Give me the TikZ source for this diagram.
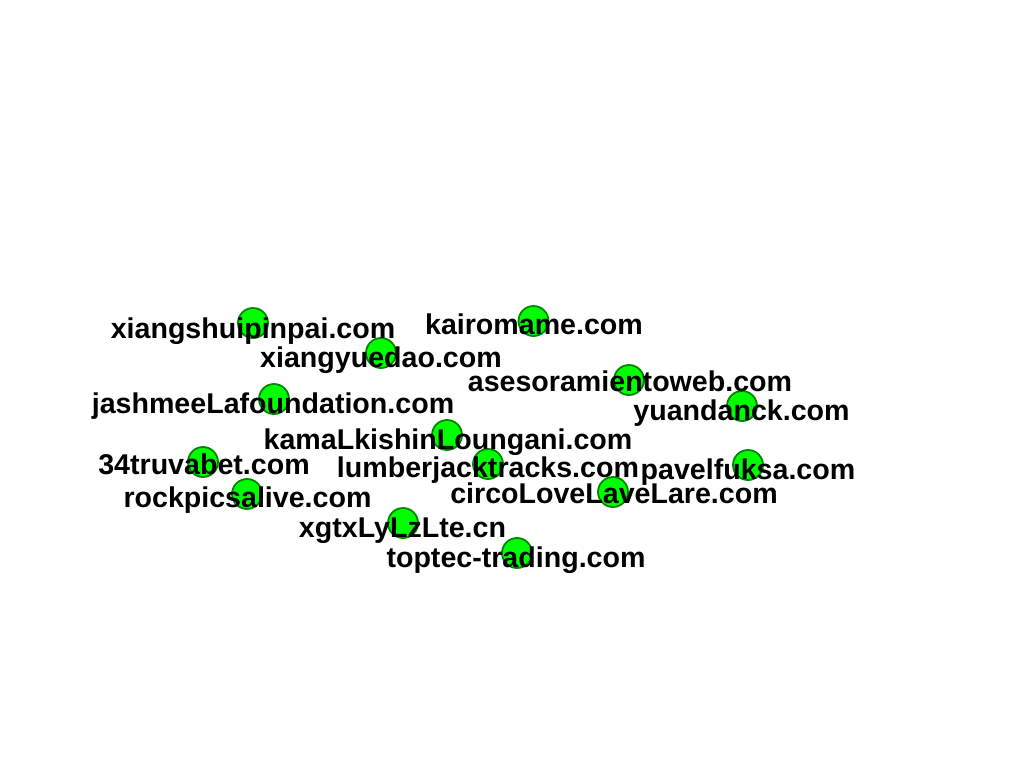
\documentclass[tikz,border=0pt]{standalone}
\usepackage{fontspec}
\setmainfont{Liberation Sans}
\definecolor{nodefill}{RGB}{0,255,0}
\definecolor{nodeline}{RGB}{0,135,0}
\begin{document}
\begin{tikzpicture}[x=1pt,y=-1pt,
  dot/.style={circle,draw=nodeline,line width=1.8pt,fill=nodefill,minimum size=30pt,inner sep=0pt},
  lbl/.style={anchor=base,inner sep=0pt,font=\fontsize{28.6}{32}\selectfont\bfseries,text=black}]
\useasboundingbox (0,0) rectangle (1024,768);
\fill[white] (0,0) rectangle (1024,768);
% circles
\node[dot] (c1) at (253,323) {};
\node[dot] (c2) at (533.5,321) {};
\node[dot] (c3) at (381,353) {};
\node[dot] (c4) at (629,380) {};
\node[dot] (c5) at (274,399) {};
\node[dot] (c6) at (742,406) {};
\node[dot] (c7) at (447,435) {};
\node[dot] (c8) at (203,462) {};
\node[dot] (c9) at (488,464) {};
\node[dot] (c10) at (748,465) {};
\node[dot] (c11) at (613,492) {};
\node[dot] (c12) at (247,494) {};
\node[dot] (c13) at (403,523) {};
\node[dot] (c14) at (517,553) {};
% labels
\node[lbl] (l1) at (253,338) {xiangshuipinpai.com};
\node[lbl] (l2) at (534,334) {kairomame.com};
\node[lbl] (l3) at (381,367) {xiangyuedao.com};
\node[lbl] (l4) at (630,391) {asesoramientoweb.com};
\node[lbl] (l5) at (273,413) {jashmeeLafoundation.com};
\node[lbl] (l6) at (741.5,420) {yuandanck.com};
\node[lbl] (l7) at (448,449) {kamaLkishinLoungani.com};
\node[lbl] (l8) at (204,474) {34truvabet.com};
\node[lbl] (l9) at (488,477) {lumberjacktracks.com};
\node[lbl] (l10) at (748,479) {pavelfuksa.com};
\node[lbl] (l11) at (614,503) {circoLoveLaveLare.com};
\node[lbl] (l12) at (247.5,507) {rockpicsalive.com};
\node[lbl] (l13) at (402.5,537) {xgtxLyLzLte.cn};
\node[lbl] (l14) at (516,567) {toptec-trading.com};
\end{tikzpicture}
\end{document}
